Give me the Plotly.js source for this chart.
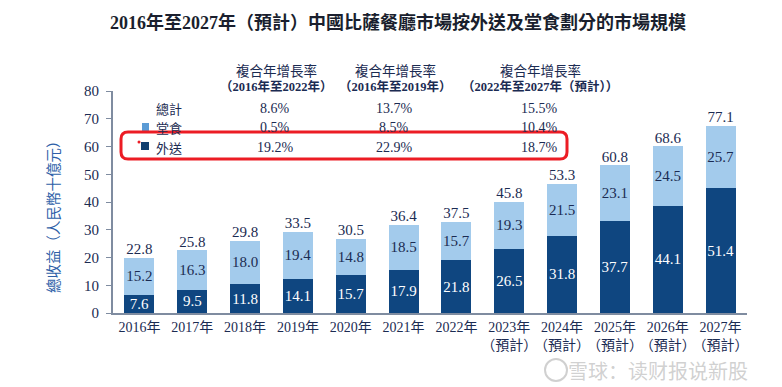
<!DOCTYPE html>
<html>
<head>
<meta charset="utf-8">
<script src="https://cdn.plot.ly/plotly-3.0.1.min.js"></script>
<style>html,body{margin:0;padding:0;background:#fff;}#chart{width:782px;height:387px;}</style>
</head>
<body>
<div id="chart"></div>
<script>
// ---- data ----
var categories = ["2016年","2017年","2018年","2019年","2020年","2021年","2022年",
  "2023年<br>（預計）","2024年<br>（預計）","2025年<br>（預計）","2026年<br>（預計）","2027年<br>（預計）"];
var dineIn   = [15.2,16.3,18.0,19.4,14.8,18.5,15.7,19.3,21.5,23.1,24.5,25.7];   // 堂食
var delivery = [7.6,9.5,11.8,14.1,15.7,17.9,21.8,26.5,31.8,37.7,44.1,51.4];     // 外送
var totals   = [22.8,25.8,29.8,33.5,30.5,36.4,37.5,45.8,53.3,60.8,68.6,77.1];   // 總計
var cagrHeaders = ["（2016年至2022年）","（2016年至2019年）","（2022年至2027年（預計））"];
var cagrTotal    = ["8.6%","13.7%","15.5%"];
var cagrDineIn   = ["0.5%","8.5%","10.4%"];
var cagrDelivery = ["19.2%","22.9%","18.7%"];
var seriesNames = ["總計","堂食","外送"];
var yTicks = [0,10,20,30,40,50,60,70,80];

// ---- styles ----
var DARK = "#0f4680", LIGHT = "#a3cbec", NAVY = "#1b2b52";
var SERIF = "'Liberation Serif','Noto Sans CJK TC',serif";
var CJK = "'Noto Sans CJK TC','Liberation Serif',sans-serif";

var W = 782, H = 387, L = 113, R = 35, T = 91, B = 74;
var PW = W - L - R, PH = H - T - B;
function fx(p){ return (p - L) / PW; }
function fy(p){ return (H - B - p) / PH; }

var traces = [
  // anchor trace so the visible value axis (0-80) is drawn
  {type:"scatter", mode:"markers", x:[categories[0]], y:[yTicks[0]], yaxis:"y",
   marker:{opacity:0, size:1}, hoverinfo:"skip", showlegend:false},
  {type:"bar", name:seriesNames[2], x:categories, y:delivery, yaxis:"y2",
   marker:{color:DARK, line:{width:0}},
   text:delivery.map(function(v){return v.toFixed(1);}), textposition:"inside",
   insidetextanchor:"middle", textangle:0, constraintext:"none",
   textfont:{family:SERIF, size:15, color:"#ffffff"}, hoverinfo:"skip"},
  {type:"bar", name:seriesNames[1], x:categories, y:dineIn, yaxis:"y2",
   marker:{color:LIGHT, line:{width:0}},
   text:dineIn.map(function(v){return v.toFixed(1);}), textposition:"inside",
   insidetextanchor:"middle", textangle:0, constraintext:"none",
   textfont:{family:SERIF, size:15, color:NAVY}, hoverinfo:"skip"},
  {type:"scatter", mode:"text", name:seriesNames[0], x:categories, y:totals, yaxis:"y2",
   text:totals.map(function(v){return v.toFixed(1);}), textposition:"top center",
   textfont:{family:SERIF, size:15, color:NAVY}, cliponaxis:false, hoverinfo:"skip"}
];

var ann = [];
function addText(t, x, y, opts){
  var a = {text:t, xref:"paper", yref:"paper", x:fx(x), y:fy(y), showarrow:false,
    xanchor:"center", yanchor:"middle", font:{family:SERIF, size:14, color:NAVY}};
  for (var k in opts) a[k] = opts[k];
  ann.push(a);
}
// title
addText("<b>2016年至2027年（預計）中國比薩餐廳市場按外送及堂食劃分的市場規模</b>", 398, 22,
  {font:{family:SERIF, size:18, color:"#1a1f2e"}});
// y title
addText("總收益（人民幣十億元）", 52, 213, {textangle:-90, font:{family:CJK, size:14.5, color:"#2e5fa8"}});
// CAGR table
var colX = [276, 395, 540];
for (var i = 0; i < 3; i++){
  addText("複合年增長率", colX[i], 70, {font:{family:CJK, size:13.5, color:NAVY}});
  addText("<b>" + cagrHeaders[i] + "</b>", colX[i], 87, {font:{family:SERIF, size:12.5, color:NAVY}});
  addText(cagrTotal[i], colX[i] - 1, 109);
  addText(cagrDineIn[i], colX[i] - 1, 127);
  addText(cagrDelivery[i], colX[i] - 1, 147);
}
// legend labels
addText(seriesNames[0], 154, 109, {xanchor:"left", font:{family:CJK, size:13, color:NAVY}});
addText(seriesNames[1], 154, 127, {xanchor:"left", font:{family:CJK, size:13, color:NAVY}});
addText(seriesNames[2], 154, 147, {xanchor:"left", font:{family:CJK, size:13, color:NAVY}});
// watermark
addText("雪球：读财报说新股", 658, 370, {font:{family:"'Noto Sans CJK SC',sans-serif", size:20, color:"rgba(170,170,170,0.55)"}});

function rrect(x0,y0,x1,y1,r){
  var rx = r / PW, ry = r / PH;
  var X0=fx(x0), X1=fx(x1), Y0=fy(y0), Y1=fy(y1);
  return "M"+(X0+rx)+","+Y0+" L"+(X1-rx)+","+Y0+" Q"+X1+","+Y0+" "+X1+","+(Y0-ry)+
    " L"+X1+","+(Y1+ry)+" Q"+X1+","+Y1+" "+(X1-rx)+","+Y1+
    " L"+(X0+rx)+","+Y1+" Q"+X0+","+Y1+" "+X0+","+(Y1+ry)+
    " L"+X0+","+(Y0-ry)+" Q"+X0+","+Y0+" "+(X0+rx)+","+Y0+" Z";
}

var shapes = [
  {type:"rect", xref:"paper", yref:"paper", x0:fx(142), x1:fx(149), y0:fy(131), y1:fy(123),
   fillcolor:"#5b9bd5", line:{width:0}},
  {type:"rect", xref:"paper", yref:"paper", x0:fx(141), x1:fx(149), y0:fy(150), y1:fy(142),
   fillcolor:"#123e6e", line:{width:0}},
  {type:"path", xref:"paper", yref:"paper", path:rrect(121,132,567,159,7),
   line:{color:"#ec1c24", width:3}},
  {type:"circle", xref:"paper", yref:"paper", x0:fx(137.5), x1:fx(140.5), y0:fy(143.5), y1:fy(140.5),
   fillcolor:"#ec1c24", line:{width:0}},
  {type:"circle", xref:"paper", yref:"paper", x0:fx(545), x1:fx(567), y0:fy(381), y1:fy(359),
   line:{color:"rgba(170,170,170,0.55)", width:2}}
];

var layout = {
  width:W, height:H, margin:{l:L, r:R, t:T, b:B}, paper_bgcolor:"#fff", plot_bgcolor:"#fff",
  barmode:"stack", bargap:0.43, showlegend:false,
  xaxis:{type:"category", showgrid:false, showline:true, linecolor:"#7f8ca0", linewidth:2,
    ticks:"", tickangle:0, automargin:false, tickfont:{family:SERIF, size:14, color:NAVY},
    range:[-0.5,11.5], fixedrange:true},
  yaxis:{range:[0,80], tickvals:yTicks, showgrid:false, zeroline:false, showline:true,
    linecolor:"#7f8ca0", linewidth:2, ticks:"outside", ticklen:5, tickcolor:"#7f8ca0",
    tickfont:{family:SERIF, size:15, color:NAVY}, ticklabelstandoff:4, automargin:false},
  yaxis2:{overlaying:"y", range:[0, 80/0.875], visible:false, showgrid:false, zeroline:false},
  annotations:ann, shapes:shapes
};

Plotly.newPlot("chart", traces, layout, {displayModeBar:false, staticPlot:true});
</script>
</body>
</html>
